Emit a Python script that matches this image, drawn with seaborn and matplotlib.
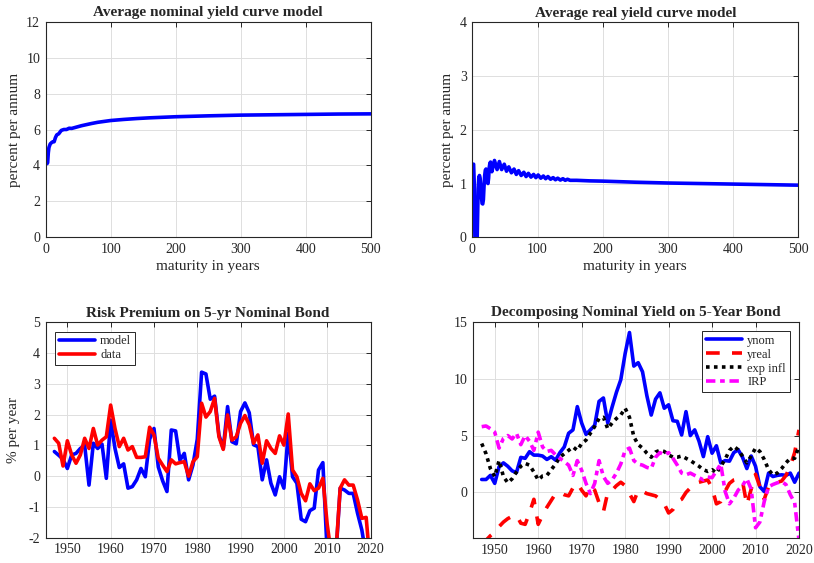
import numpy as np
import pandas as pd
import matplotlib
matplotlib.use("Agg")
import matplotlib.pyplot as plt
import seaborn as sns

# ---------------- data ----------------
nom_maturity = [1, 2, 3, 4, 5, 7, 10, 13, 15, 17, 20, 24, 28, 32, 36, 40, 45, 50, 55, 60,
                70, 80, 90, 100, 120, 140, 160, 180, 200, 250, 300, 350, 400, 450, 500]
nom_yield = [4.1, 4.1, 4.15, 4.7, 5.0, 5.2, 5.3, 5.32, 5.55, 5.7, 5.76, 5.95, 6.0, 6.0, 6.07,
             6.06, 6.11, 6.16, 6.21, 6.25, 6.33, 6.4, 6.45, 6.5, 6.56, 6.61, 6.65, 6.68,
             6.71, 6.76, 6.8, 6.82, 6.84, 6.86, 6.87]

real_maturity = [1, 2, 3, 4, 5, 6, 7, 8, 9, 10, 11, 12, 13, 14, 15, 16, 17, 18, 19, 20,
                 21, 22, 23, 24, 25, 26, 27, 28, 30, 34, 38, 41.5, 45, 49, 52.5, 56, 60,
                 64, 67.5, 71, 75, 79, 82.5, 86, 90, 94, 97.5, 101, 105, 109, 112.5, 116,
                 120, 124, 127.5, 131, 135, 139, 142.5, 146, 150, 160, 180, 200, 225, 250,
                 300, 350, 400, 450, 500]
real_yield = [1.36, 1.36, 1.0, 0.0, -0.5, -0.6, -0.3, 0.3, 0.9, 1.12, 1.15, 1.1, 0.95, 0.75,
              0.63, 0.62, 0.7, 0.95, 1.15, 1.25, 1.27, 1.2, 1.05, 1.0, 1.1, 1.3, 1.38, 1.4,
              1.22, 1.43, 1.26, 1.41, 1.26, 1.36, 1.23, 1.31, 1.2, 1.27, 1.17, 1.24, 1.15,
              1.21, 1.13, 1.19, 1.12, 1.17, 1.11, 1.16, 1.1, 1.14, 1.09, 1.13, 1.08, 1.11,
              1.07, 1.1, 1.065, 1.09, 1.06, 1.08, 1.06, 1.06, 1.05, 1.045, 1.035, 1.025,
              1.01, 1.0, 0.99, 0.98, 0.97]

years = list(range(1947, 2021))

rp_model = [0.80, 0.68, 0.55, 0.25, 0.69, 0.74, 0.90, 1.00, -0.29, 1.07,
            0.90, 1.04, -0.07, 1.82, 0.90, 0.28, 0.40, -0.39, -0.34, -0.12,
            0.25, -0.02, 1.20, 1.55, 0.30, -0.15, -0.50, 1.50, 1.47, 0.52,
            0.74, -0.12, 0.36, 1.20, 3.38, 3.32, 2.50, 2.60, 1.34, 0.90,
            2.26, 1.12, 1.05, 2.10, 2.38, 2.06, 1.02, 0.96, -0.12, 0.53,
            -0.23, -0.61, -0.02, -0.39, 1.40, -0.02, -0.23, -1.40, -1.48, -1.12,
            -1.04, 0.20, 0.44, -2.50, -3.00, -2.60, -0.39, -0.45, -0.56, -0.56,
            -1.20, -1.75, -2.60, -3.00]
rp_data = [1.23, 1.07, 0.33, 1.15, 0.69, 0.42, 0.69, 1.23, 0.90, 1.55,
           1.01, 1.17, 1.28, 2.31, 1.55, 0.96, 1.23, 0.85, 0.96, 0.61,
           0.61, 0.63, 1.59, 1.34, 0.58, 0.36, 0.15, 0.53, 0.40, 0.44,
           0.47, 0.00, 0.47, 0.63, 2.37, 1.92, 2.10, 2.53, 1.28, 0.87,
           1.99, 1.17, 1.28, 1.72, 1.97, 1.67, 1.07, 1.34, 0.42, 1.15,
           0.90, 0.74, 1.31, 1.01, 2.02, 0.20, -0.02, -0.56, -0.80, -0.25,
           -0.47, -0.39, -0.07, -1.56, -2.60, -2.50, -0.39, -0.12, -0.29, -0.29,
           -0.77, -1.37, -1.34, -3.00]

ynom = [1.14, 1.14, 1.5, 0.8, 2.26, 2.6, 2.3, 1.9, 1.75, 3.08,
        3.0, 3.58, 3.28, 3.28, 3.2, 2.9, 3.14, 2.84, 3.5, 4.0,
        5.2, 5.5, 7.54, 6.1, 5.1, 5.5, 5.9, 8.0, 8.3, 6.1,
        7.5, 8.8, 9.9, 12.2, 14.05, 11.1, 11.4, 10.6, 8.5, 6.8,
        8.2, 8.75, 7.4, 7.7, 6.3, 6.25, 5.05, 7.1, 5.0, 5.5,
        4.5, 3.15, 4.9, 3.45, 4.1, 2.6, 2.8, 2.75, 3.5, 3.75,
        3.1, 2.1, 3.2, 2.3, 0.5, 0.08, 1.7, 1.4, 1.5, 1.55,
        1.5, 1.7, 0.9, 1.7]
yreal = [-4.6, -4.2, -3.8, -3.5, -3.0, -2.6, -2.3, -2.1, -2.0, -2.7,
         -2.8, -1.8, -0.6, -2.8, -2.0, -1.3, -0.7, -0.1, 0.0, -0.2,
         -0.3, 0.4, 0.8, 0.2, -0.3, 0.6, 0.2, -0.9, -1.7, 0.0,
         0.2, 0.6, 0.9, 0.6, -0.1, -0.8, 0.2, 0.1, -0.1, -0.2,
         -0.3, -0.6, -1.0, -1.8, -1.5, -0.8, -0.6, 0.0, 0.4, 0.8,
         0.9, 1.0, 1.1, 0.4, -1.0, -0.8, 0.1, 0.8, 1.1, 1.2,
         1.0, -1.1, 0.3, 1.6, 0.5, -0.6, 0.5, 0.7, 0.9, 1.0,
         1.5, 2.3, 3.5, 5.5]
exp_infl = [4.3, 3.4, 2.1, 1.4, 2.8, 1.4, 0.85, 1.2, 1.8, 2.3,
            2.55, 2.4, 1.8, 1.1, 1.45, 1.5, 2.0, 2.5, 3.1, 3.4,
            3.7, 4.0, 3.7, 4.3, 4.6, 5.2, 5.8, 6.5, 6.6, 5.6,
            6.1, 6.5, 6.8, 7.4, 6.6, 4.9, 4.2, 3.9, 3.45, 3.1,
            3.55, 3.7, 3.6, 3.3, 3.1, 3.1, 3.2, 3.0, 2.8, 2.55,
            2.3, 2.0, 1.85, 2.0, 1.7, 2.3, 2.9, 3.7, 4.05, 3.75,
            3.2, 2.6, 3.2, 3.9, 3.6, 2.9, 2.0, 1.55, 1.7, 2.1,
            2.6, 3.0, 3.0, 4.05]
irp = [5.78, 5.84, 5.6, 5.3, 3.9, 4.75, 5.0, 4.7, 5.2, 4.2,
       5.0, 4.5, 3.7, 5.3, 4.0, 3.6, 3.7, 3.3, 3.0, 2.7,
       2.4, 1.5, 2.8, 1.95, 0.8, -0.1, 0.8, 2.8, 1.4, 0.8,
       1.1, 1.7, 2.5, 3.7, 3.9, 2.8, 2.5, 2.4, 2.2, 2.1,
       3.1, 3.5, 3.3, 3.5, 3.0, 2.4, 1.7, 1.55, 1.7, 1.5,
       1.3, 1.1, 1.35, 1.3, 1.9, 2.5, 0.1, -1.0, -0.5, 0.2,
       0.6, 1.2, 0.3, -3.1, -2.6, -0.8, 0.5, 0.7, 0.85, 0.95,
       0.7, -0.2, -0.9, -4.2]

# ---------------- style ----------------
sns.set_style("white")
plt.rcParams['font.family'] = ['Liberation Serif', 'DejaVu Serif']
plt.rcParams['mathtext.fontset'] = 'stix'
plt.rcParams['axes.unicode_minus'] = False

AX_COL = '#262626'
GRID_COL = '#dedede'
LW = 2.6

fig = plt.figure(figsize=(8.14, 5.63), dpi=100)
W, H = 814, 563


def make_ax(x0, y0, x1, y1):
    return fig.add_axes([x0 / W, 1 - y1 / H, (x1 - x0) / W, (y1 - y0) / H])


def style(ax):
    for s in ax.spines.values():
        s.set_color(AX_COL)
        s.set_linewidth(0.8)
        s.set_visible(True)
    ax.tick_params(direction='in', length=3.5, width=0.7, colors=AX_COL,
                   labelsize=10, top=True, right=True, pad=4,
                   labelcolor=AX_COL)
    ax.grid(True, color=GRID_COL, linewidth=0.7)
    ax.set_axisbelow(True)


ax1 = make_ax(45.7, 21.7, 370.7, 237.3)
ax2 = make_ax(472.3, 22.3, 798.3, 237.3)
ax3 = make_ax(45.7, 322.3, 370.5, 537.7)
ax4 = make_ax(473.0, 321.7, 799.0, 538.0)

# Top-left
sns.lineplot(x=nom_maturity, y=nom_yield, ax=ax1, color='#0000ff', linewidth=LW)
ax1.set_xlim(0, 500)
ax1.set_ylim(0, 12)
ax1.set_yticks(range(0, 13, 2))
ax1.set_xticks(range(0, 501, 100))
ax1.set_title('Average nominal yield curve model', fontsize=11, fontweight='bold', pad=4)
ax1.set_xlabel('maturity in years', fontsize=11, color=AX_COL, labelpad=3)
ax1.set_ylabel('percent per annum', fontsize=11, color=AX_COL, labelpad=4)

# Top-right
sns.lineplot(x=real_maturity, y=real_yield, ax=ax2, color='#0000ff', linewidth=LW)
ax2.set_xlim(0, 500)
ax2.set_ylim(0, 4)
ax2.set_yticks(range(0, 5))
ax2.set_xticks(range(0, 501, 100))
ax2.set_title('Average real yield curve model', fontsize=11, fontweight='bold', pad=4)
ax2.set_xlabel('maturity in years', fontsize=11, color=AX_COL, labelpad=3)
ax2.set_ylabel('percent per annum', fontsize=11, color=AX_COL, labelpad=4)

# Bottom-left
df_rp = pd.DataFrame({'year': years, 'model': rp_model, 'data': rp_data})
sns.lineplot(data=df_rp, x='year', y='model', ax=ax3, color='#0000ff', linewidth=LW, label='model')
sns.lineplot(data=df_rp, x='year', y='data', ax=ax3, color='#ff0000', linewidth=LW, label='data')
ax3.set_xlim(1945, 2020)
ax3.set_ylim(-2, 5)
ax3.set_xticks(range(1950, 2021, 10))
ax3.set_yticks(range(-2, 6))
ax3.set_title('Risk Premium on 5-yr Nominal Bond', fontsize=11, fontweight='bold', pad=4)
ax3.set_xlabel('')
ax3.set_ylabel('% per year', fontsize=11, color=AX_COL, labelpad=6)
leg3 = ax3.legend(loc='upper left', fontsize=9, frameon=True, fancybox=False,
                  edgecolor=AX_COL, framealpha=1, handlelength=2.9, borderpad=0.3,
                  labelspacing=0.15, handletextpad=0.4, borderaxespad=0.75)
leg3.get_frame().set_linewidth(0.7)

# Bottom-right
df_dec = pd.DataFrame({'year': years, 'ynom': ynom, 'yreal': yreal,
                       'exp infl': exp_infl, 'IRP': irp})
sns.lineplot(data=df_dec, x='year', y='ynom', ax=ax4, color='#0000ff', linewidth=LW, label='ynom')
sns.lineplot(data=df_dec, x='year', y='yreal', ax=ax4, color='#ff0000', linewidth=LW,
             label='yreal', linestyle=(0, (3.8, 3.4)))
sns.lineplot(data=df_dec, x='year', y='exp infl', ax=ax4, color='#000000', linewidth=LW,
             label='exp infl', linestyle=(0, (1.0, 1.2)))
sns.lineplot(data=df_dec, x='year', y='IRP', ax=ax4, color='#ff00ff', linewidth=LW,
             label='IRP', linestyle=(0, (2.6, 1.3, 1.3, 1.3)))
ax4.set_xlim(1945, 2020)
ax4.set_ylim(-4, 15)
ax4.set_xticks(range(1950, 2021, 10))
ax4.set_yticks([0, 5, 10, 15])
ax4.set_title('Decomposing Nominal Yield on 5-Year Bond', fontsize=11, fontweight='bold', pad=4)
ax4.set_xlabel('')
ax4.set_ylabel('')
leg4 = ax4.legend(loc='upper right', fontsize=9, frameon=True, fancybox=False,
                  edgecolor=AX_COL, framealpha=1, handlelength=2.9, borderpad=0.3,
                  labelspacing=0.15, handletextpad=0.4, borderaxespad=0.75)
leg4.get_frame().set_linewidth(0.7)

for ax in (ax1, ax2, ax3, ax4):
    style(ax)

fig.savefig('out.png', dpi=100)
